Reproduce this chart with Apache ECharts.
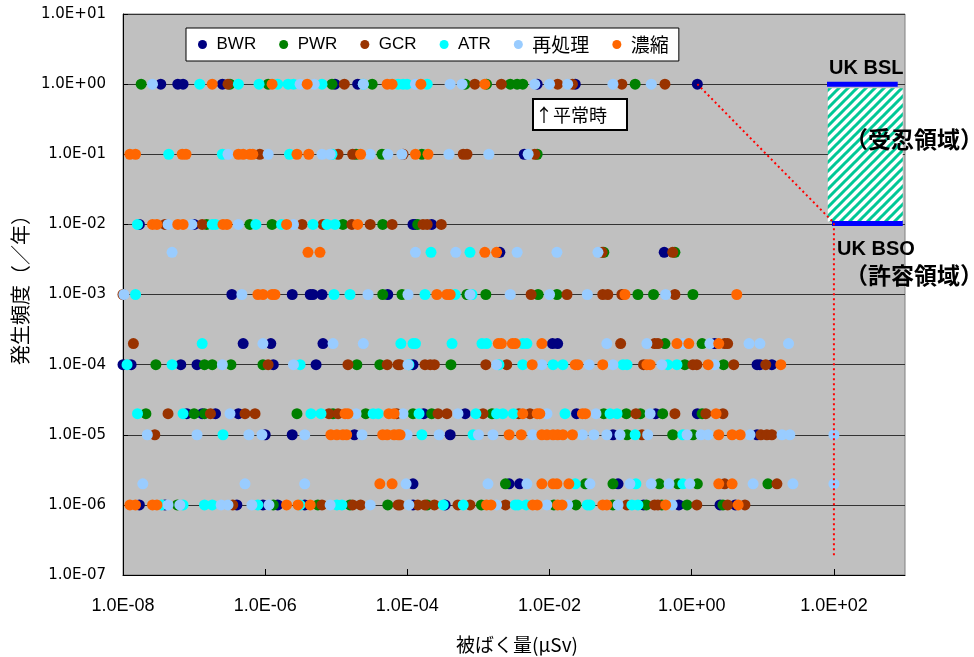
<!DOCTYPE html>
<html><head><meta charset="utf-8">
<script src="https://cdn.jsdelivr.net/npm/echarts@6/dist/echarts.min.js"></script>
<style>html,body{margin:0;padding:0;background:#fff}#c{width:974px;height:657px}</style>
</head><body><div id="c"></div><script>
// ---------- data ----------
const SERIES_NAMES = ['BWR', 'PWR', 'GCR', 'ATR', '再処理', '濃縮'];
const SERIES_COLORS = ['#000080', '#008000', '#993300', '#00FFFF', '#99CCFF', '#FF6600'];
// frequency rows (/year); each series below lists its exposure values (μSv) row by row
const ROWS = [1, 0.1, 0.01, 4e-3, 1e-3, 2e-4, 1e-4, 2e-5, 1e-5, 2e-6, 1e-6];

const BWR_X = [
  [3.4e-8, 5.9e-8, 7.0e-8, 2.5e-7, 9.6e-6, 2.0e-5, 6.7e-3, 2.3e-2, 1.2],
  [4.4e-3],
  [1.7e-8, 1.0e-7, 1.2e-4, 1.3e-4, 2.2e-4],
  [2.0e-3, 0.41],
  [3.4e-7, 2.4e-6, 4.3e-6, 4.7e-6, 6.3e-6, 5.3e-5],
  [4.9e-7, 1.2e-6, 6.5e-6, 1.1e-2, 1.3e-2, 2.1],
  [1.0e-8, 1.3e-8, 6.5e-8, 1.1e-7, 1.3e-6, 5.2e-6, 1.2e-4, 8.3, 9.1, 13.4],
  [7.9e-8, 1.3e-7, 2.0e-7, 4.2e-7, 1.7e-4, 6.5e-4, 2.4e-2, 0.31, 1.2],
  [1.0e-6, 2.4e-6, 1.8e-5, 4.0e-4, 7.8e-2, 8.3],
  [1.2e-4, 2.7e-3, 3.8e-3, 9.2e-2],
  [1.7e-8, 3.9e-8, 4.0e-7, 9.3e-7, 1.5e-6, 3.6e-6, 1.2e-4, 3.4e-4, 0.21, 0.66, 2.5, 4.1]
];
const PWR_X = [
  [1.8e-8, 3.2e-7, 1.1e-6, 8.7e-6, 3.2e-5, 6.5e-4, 1.3e-3, 2.8e-3, 3.5e-3, 4.2e-3, 0.16],
  [1.9e-5, 4.4e-5, 1.6e-4, 6.7e-3],
  [1.5e-7, 6.1e-7, 1.25e-6, 1.24e-5, 4.5e-5, 1.4e-4],
  [5.8e-2, 0.58],
  [4.5e-5, 8.4e-5, 6.9e-4, 1.27e-3, 6.9e-3, 1.27e-2, 0.175, 0.29, 1.04],
  [0.42, 1.4],
  [2.9e-8, 1.4e-7, 1.8e-7, 3.3e-7, 9.3e-7, 1.95e-5, 4.1e-5, 4.1e-4, 0.8, 2.8],
  [2.1e-8, 1.0e-7, 1.4e-7, 2.8e-6, 9.0e-6, 2.6e-5, 1.2e-4, 2.2e-4, 1.55e-3, 5.8e-2, 0.12, 0.19, 0.39, 1.4],
  [0.123, 0.54, 1.04],
  [2.4e-3, 3.2e-2, 7.8e-2, 0.35, 0.64, 1.2, 11.8],
  [5.8e-8, 1.3e-6, 5.5e-6, 1.56e-5, 5.3e-5, 1.9e-4, 1.1e-3, 1.15e-2, 2.35e-2, 7.8e-2, 0.23, 0.38, 0.86, 2.75]
];
const GCR_X = [
  [3.0e-7, 1.3e-5, 8.9e-4, 2.1e-3, 1.3e-2, 2.1e-2, 0.104, 0.42],
  [8.4e-7, 1.06e-5, 1.7e-5, 8.7e-5, 6.1e-4, 6.9e-4, 6.2e-3],
  [3.9e-8, 1.3e-7, 3.3e-6, 6.5e-6, 1.66e-5, 3.0e-5, 6.1e-5, 1.66e-4, 1.9e-4, 3.0e-4],
  [5.5e-2, 0.54],
  [1.0e-8, 5.5e-3, 1.76e-2, 5.6e-2, 6.6e-2, 0.104, 0.58],
  [1.4e-8, 0.1, 0.3, 0.335, 2.9, 3.2],
  [1.1e-6, 1.46e-5, 5.2e-5, 7.4e-5, 7.9e-5, 1.77e-4, 2.1e-4, 2.4e-4, 1.27e-3, 2.5e-3, 0.21, 1.04, 1.18, 3.9, 11],
  [4.3e-8, 1.7e-7, 5.2e-7, 7.2e-7, 7.9e-6, 1.06e-5, 7.1e-5, 2.7e-4, 3.6e-4, 1.16e-3, 3.7e-3, 5.3e-3, 0.164, 0.58, 1.58, 2.75],
  [2.8e-8, 0.2, 9.4, 11.4, 13.4],
  [2.9, 15.8],
  [3.5e-7, 6.3e-6, 1.7e-5, 2.2e-5, 7.4e-5, 7.9e-5, 1.4e-4, 1.77e-4, 2.4e-4, 5.15e-4, 7.6e-4, 2.4e-3, 0.123, 0.3, 0.335, 1.18, 3.2, 5.6]
];
const ATR_X = [
  [1.2e-7, 4.2e-7, 8.2e-7, 1.5e-6, 2.1e-6, 2.5e-6, 6.3e-6, 2.4e-5, 7.4e-5, 8.7e-5, 9.9e-5, 1.9e-4],
  [4.4e-8, 2.5e-7, 2.2e-6, 8.7e-6],
  [1.6e-8, 1.8e-7, 2.0e-7, 7.4e-7, 1.7e-6, 4.7e-6, 7.4e-6, 9.6e-6],
  [2.15e-4, 7.6e-4],
  [1.5e-8, 9.3e-6, 1.56e-5, 1.77e-4, 4.7e-4, 8.1e-4],
  [1.3e-7, 8.1e-5, 1.2e-4, 1.3e-4, 4.25e-4, 1.12e-3, 1.3e-3, 4.2e-3, 4.8e-3],
  [1.14e-8, 4.9e-8, 3.1e-6, 1.05e-4, 1.94e-3, 4.2e-3, 1.12e-2, 1.54e-2, 0.108, 0.123, 0.46, 0.62],
  [1.6e-8, 7.0e-8, 4.4e-6, 6.1e-6, 3.3e-5, 3.9e-5, 1.46e-4, 9.2e-4, 1.8e-3, 2.2e-3, 3.1e-3, 1.65e-2, 7.1e-2, 8.9e-2],
  [2.55e-7, 1.6e-4, 8.4e-4, 0.16, 0.75],
  [2.3e-2, 0.164, 0.75],
  [3.5e-8, 7.0e-8, 1.4e-7, 1.8e-7, 7.9e-7, 3.1e-6, 1.02e-5, 1.2e-5, 3.2e-4, 6.1e-4, 3.3e-3, 3.6e-3, 4.7e-3, 3.4e-2, 3.7e-2, 0.144, 0.175]
];
const REPRO_X = [
  [2.6e-8, 3.1e-6, 4.9e-6, 2.4e-5, 1.3e-4, 4.0e-4, 5.9e-4, 6.2e-3, 1.0e-2, 1.8e-2, 7.8e-2, 0.27],
  [3.0e-7, 1.1e-6, 6.3e-6, 8.2e-6, 3.0e-5, 5.3e-5, 8.4e-5, 3.85e-4, 1.4e-3, 5.0e-3],
  [4.3e-8, 9.3e-8, 4.2e-7, 2.5e-6],
  [4.9e-8, 1.3e-4, 4.8e-4, 3.5e-3, 1.27e-2, 4.8e-2],
  [1.03e-8, 4.7e-7, 2.8e-5, 1.02e-4, 7.6e-4, 2.8e-3, 1.0e-2, 3.4e-2, 0.43],
  [9.3e-7, 9.0e-6, 2.4e-5, 6.4e-2, 0.234, 0.75, 1.8, 6.4, 9.1, 23],
  [2.5e-7, 2.5e-6, 1.02e-4, 1.8e-3, 7.8e-3, 3.6e-2, 7.8e-2, 0.38, 2.1],
  [3.2e-7, 1.9e-5, 8.7e-5, 5.15e-4, 9.2e-3, 4.5e-2, 0.26],
  [2.2e-8, 1.1e-7, 5.9e-7, 9.0e-7, 3.6e-6, 2.3e-5, 9.9e-5, 2.8e-4, 1.0e-3, 1.6e-3, 5.8e-3, 2.9e-2, 4.2e-2, 6.4e-2, 9.8e-2, 0.24, 0.86, 1.35, 1.7, 6.6, 18.6, 24, 100],
  [1.9e-8, 5.2e-7, 3.6e-6, 9.6e-5, 1.36e-3, 4.8e-3, 3.7e-2, 0.135, 0.27, 0.48, 0.94, 7.3, 26.5, 100],
  [4.3e-8, 6.3e-8, 2.4e-7, 3.0e-7, 6.5e-7, 1.13e-6, 8.2e-6, 3.0e-5, 1.05e-4, 1.8e-3, 9.2e-3, 1.8e-2, 9.2e-2, 0.53]
];
const ENRICH_X = [
  [1.8e-7, 1.25e-6, 3.9e-6, 5.2e-5, 6.1e-5, 1.55e-4, 1.23e-3],
  [1.25e-8, 1.5e-8, 6.8e-8, 7.7e-8, 4.2e-7, 4.9e-7, 6.1e-7, 6.7e-7, 2.8e-6, 4.1e-6, 2.2e-5, 1.3e-4, 1.95e-4],
  [2.6e-8, 3.0e-8, 5.9e-8, 7.0e-8, 2.55e-7, 2.9e-7, 2.0e-6, 2.0e-5],
  [4.0e-6, 5.9e-6, 1.23e-3, 1.8e-3],
  [7.9e-7, 9.3e-7, 1.25e-6, 1.37e-6, 2.6e-4, 3.6e-4, 4.0e-4, 0.115, 4.3],
  [1.9e-3, 2.1e-3, 3.0e-3, 3.3e-3, 7.8e-3, 0.62, 0.91, 2.4],
  [5.7e-3, 2.3e-2, 2.5e-2, 5.6e-2, 0.234, 0.26, 1.7, 17.9],
  [1.33e-5, 1.46e-5, 5.5e-5, 6.5e-5, 4.2e-3, 6.7e-3, 7.3e-3, 2.9e-2, 3.2e-2, 2.2],
  [8.4e-6, 1.02e-5, 1.24e-5, 1.4e-5, 4.5e-5, 5.2e-5, 6.5e-5, 7.4e-5, 7.9e-5, 2.7e-3, 4.0e-3, 7.8e-3, 9.2e-3, 1.12e-2, 1.3e-2, 1.54e-2, 2.1e-2, 2.4, 3.7, 4.8],
  [4.1e-5, 6.1e-5, 7.8e-3, 1.12e-2, 1.27e-2, 1.87e-2, 2.4, 3.7],
  [1.25e-8, 1.5e-8, 2.6e-8, 3.0e-8, 2.0e-6, 2.9e-6, 4.3e-6, 1.3e-3, 1.5e-3, 5.8e-3, 6.7e-3, 1.3e-2, 1.5e-2, 5.6e-2, 6.4e-2, 0.43, 4.5]
];
const SERIES_X = [BWR_X, PWR_X, GCR_X, ATR_X, REPRO_X, ENRICH_X];

// reference lines / regions (μSv, /year)
const RED_PATH = [[1.2, 1], [100, 0.0105], [100, 1.8e-7]];
const BSL_LINE = [[80, 1], [790, 1]];
const BSO_LINE = [[94, 0.0103], [930, 0.0103]];
const HATCH_BOX = [[82, 0.87], [930, 0.011]];

// tick labels
const X_TICK_EXP = [-8, -6, -4, -2, 0, 2];
const X_TICK_LABELS = ['1.0E-08', '1.0E-06', '1.0E-04', '1.0E-02', '1.0E+00', '1.0E+02'];
const Y_TICK_EXP = [1, 0, -1, -2, -3, -4, -5, -6, -7];
const Y_TICK_LABELS = ['1.0E+01', '1.0E+00', '1.0E-01', '1.0E-02', '1.0E-03', '1.0E-04', '1.0E-05', '1.0E-06', '1.0E-07'];

// ---------- chart ----------
const LAT = '"Liberation Sans", Arial, "Noto Sans CJK JP", sans-serif';
const JP = '"Noto Sans CJK JP", sans-serif';

function stripePattern() {
  const s = 9;
  const c = document.createElement('canvas');
  c.width = s; c.height = s;
  const g = c.getContext('2d');
  g.fillStyle = '#ffffff'; g.fillRect(0, 0, s, s);
  g.strokeStyle = '#00C896'; g.lineWidth = 3;
  g.beginPath();
  for (let k = 0; k <= 2; k++) {
    g.moveTo(-s, k * s + s); g.lineTo(k * s + s, -s);
  }
  g.stroke();
  return c;
}

function tickLabel(exps, labels) {
  return function (v) {
    const e = Math.round(Math.log10(v));
    const i = exps.indexOf(e);
    return i >= 0 ? labels[i] : '';
  };
}

const scatterSeries = SERIES_NAMES.map((name, si) => {
  const data = [];
  SERIES_X[si].forEach((row, ri) => row.forEach(x => data.push([x, ROWS[ri]])));
  return {
    name, type: 'scatter', data, symbol: 'circle', symbolSize: 11,
    itemStyle: { color: SERIES_COLORS[si], opacity: 1 }, silent: true, z: 3
  };
});

const TXT = (o) => Object.assign({ type: 'text', z: 100 }, o);

const chart = echarts.init(document.getElementById('c'), null, { renderer: 'canvas' });
chart.setOption({
  animation: false,
  backgroundColor: '#ffffff',
  color: SERIES_COLORS,
  grid: { left: 123, right: 69, top: 14, bottom: 82, show: true, backgroundColor: '#C0C0C0', borderColor: '#808080', borderWidth: 1 },
  legend: {
    data: SERIES_NAMES, left: 186, top: 28, orient: 'horizontal',
    icon: 'circle', itemWidth: 18, itemHeight: 9, itemGap: 23,
    padding: [7, 10, 7, 12], backgroundColor: '#ffffff', borderColor: '#000000', borderWidth: 1,
    textStyle: { fontFamily: LAT, fontSize: 17, color: '#000', rich: { j: { fontFamily: JP, fontSize: 19, color: '#000' } } },
    formatter: n => /^[A-Z]+$/.test(n) ? n : '{j|' + n + '}'
  },
  xAxis: {
    type: 'log', logBase: 10, min: 1e-8, max: 1e3, interval: 2,
    axisLine: { show: true, lineStyle: { color: '#000', width: 1 } },
    axisTick: { show: true, inside: true, length: 6, lineStyle: { color: '#000' } },
    minorTick: { show: false },
    splitLine: { show: false },
    axisLabel: { formatter: tickLabel(X_TICK_EXP, X_TICK_LABELS), fontFamily: LAT, fontSize: 18, color: '#000', margin: 22, showMaxLabel: false }
  },
  yAxis: {
    type: 'log', logBase: 10, min: 1e-7, max: 1e1, interval: 1,
    axisLine: { show: true, lineStyle: { color: '#000', width: 1 } },
    axisTick: { show: true, inside: true, length: 5, lineStyle: { color: '#000' } },
    splitLine: { show: true, lineStyle: { color: '#333333', width: 1 } },
    axisLabel: { formatter: tickLabel(Y_TICK_EXP, Y_TICK_LABELS), fontFamily: '"DejaVu Sans", sans-serif', fontSize: 15, color: '#000', margin: 17 }
  },
  series: scatterSeries.concat([
    {
      name: 'BSL', type: 'line', data: BSL_LINE, symbol: 'none', silent: true, z: 2,
      lineStyle: { color: '#0000FF', width: 5 },
      markArea: {
        silent: true,
        itemStyle: { color: { image: stripePattern(), repeat: 'repeat' }, borderWidth: 0 },
        data: [[{ coord: HATCH_BOX[0] }, { coord: HATCH_BOX[1] }]]
      }
    },
    { name: 'BSO', type: 'line', data: BSO_LINE, symbol: 'none', silent: true, z: 2, lineStyle: { color: '#0000FF', width: 5 } },
    { name: 'path', type: 'line', data: RED_PATH, symbol: 'none', silent: true, z: 4, lineStyle: { color: '#FF0000', width: 2, type: [2, 3] } }
  ]),
  graphic: [
    TXT({ x: 829, y: 68, style: { text: 'UK BSL', font: 'bold 20px ' + LAT, fill: '#000', verticalAlign: 'middle', textVerticalAlign: 'middle' } }),
    TXT({ x: 914, y: 139, style: { text: '（受忍領域）', font: 'bold 23px ' + JP, fill: '#000', align: 'center', textAlign: 'center', verticalAlign: 'middle', textVerticalAlign: 'middle' } }),
    TXT({ x: 837, y: 249, style: { text: 'UK BSO', font: 'bold 20px ' + LAT, fill: '#000', verticalAlign: 'middle', textVerticalAlign: 'middle' } }),
    TXT({ x: 914, y: 275, style: { text: '（許容領域）', font: 'bold 23px ' + JP, fill: '#000', align: 'center', textAlign: 'center', verticalAlign: 'middle', textVerticalAlign: 'middle' } }),
    { type: 'rect', z: 100, shape: { x: 533, y: 99, width: 94, height: 31 }, style: { fill: '#fff', stroke: '#000', lineWidth: 2 } },
    TXT({ x: 535, y: 115, z: 101, style: { text: '↑平常時', font: '18px ' + JP, fill: '#000', verticalAlign: 'middle', textVerticalAlign: 'middle' } }),
    TXT({ x: 20, y: 285, rotation: Math.PI / 2, style: { text: '発生頻度（／年）', font: '20px ' + JP, fill: '#000', align: 'center', textAlign: 'center', verticalAlign: 'middle', textVerticalAlign: 'middle' } }),
    TXT({ x: 517, y: 645, style: { text: '被ばく量(μSv)', font: '19px ' + JP, fill: '#000', align: 'center', textAlign: 'center', verticalAlign: 'middle', textVerticalAlign: 'middle' } })
  ]
});
</script></body></html>
